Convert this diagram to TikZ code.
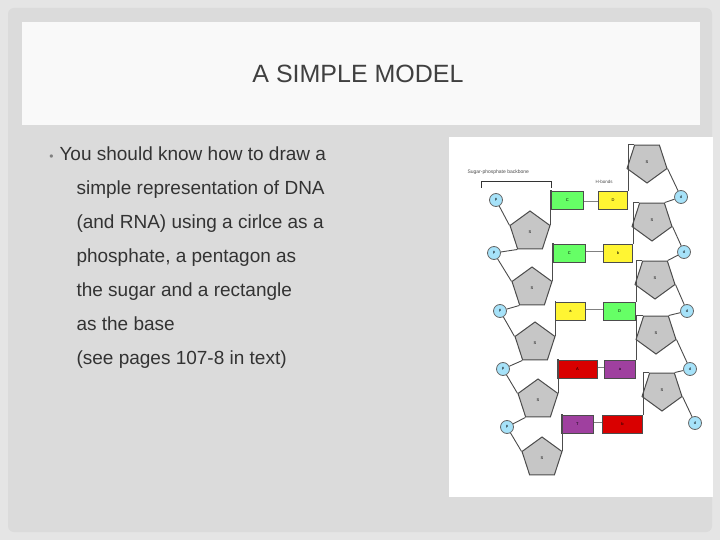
\documentclass[tikz,border=0pt]{standalone}
\usepackage{fontspec}
\setmainfont{Liberation Sans}
\usetikzlibrary{shapes.geometric}
\begin{document}
\begin{tikzpicture}[x=1pt,y=-1pt,
  sugar/.style={regular polygon,regular polygon sides=5,draw=black!70,fill=gray!45,line width=1pt,minimum size=42pt,inner sep=0pt,font=\fontsize{4}{4}\selectfont},
  rsugar/.style={sugar,shape border rotate=180},
  phos/.style={circle,draw=black!60,fill=cyan!35,line width=0.8pt,minimum size=13pt,inner sep=0pt,font=\fontsize{4}{4}\selectfont},
  base/.style={draw=black!70,line width=0.8pt,minimum height=18pt,minimum width=32pt,inner sep=0pt,font=\fontsize{4}{4}\selectfont},
  bb/.style={black!70,line width=0.9pt}]
\useasboundingbox (0,0) rectangle (720,540);
\fill[gray!20] (0,0) rectangle (720,540);
\fill[rounded corners=6pt,gray!28] (8,8) rectangle (712,532);
\fill[white!95!gray] (22,22) rectangle (700,125);
\node[font=\fontsize{25}{25}\selectfont,text=black!75] (title) at (358,74) {A SIMPLE MODEL};
\node[anchor=north west,align=left,font=\fontsize{19}{34}\selectfont,text=black!80] (body) at (56,143)
{\llap{\textcolor{gray}{\fontsize{12}{12}\selectfont\textbullet}\hspace{6pt}}You should know how to draw a\\
\hspace{17pt}simple representation of DNA\\
\hspace{17pt}(and RNA) using a cirlce as a\\
\hspace{17pt}phosphate, a pentagon as\\
\hspace{17pt}the sugar and a rectangle\\
\hspace{17pt}as the base\\
\hspace{17pt}(see pages 107-8 in text)};
\fill[white] (449,137) rectangle (713,497);
\node[anchor=west,font=\fontsize{5}{5}\selectfont,text=black!70] (lab1) at (464,172) {Sugar-phosphate backbone};
\draw[black!80,line width=0.8pt] (481,188) -- (481,181) -- (551,181) -- (551,188);
\node[font=\fontsize{4.5}{5}\selectfont,text=black!70] (lab2) at (604,182) {H-bonds};
\foreach \i/\px/\py/\sx/\sy in {1/496/200/530/232,2/494/253/532/288,3/500/311/535/343,4/503/369/538/400,5/507/427/542/458}{
  \node[phos] (lp\i) at (\px,\py) {p};
  \node[sugar] (ls\i) at (\sx,\sy) {S};
  \draw[bb] (lp\i) -- (ls\i.corner 2);
}
\foreach \i/\px/\py/\sx/\sy in {1/681/197/647/162,2/684/252/652/220,3/687/311/655/278,4/690/369/656/333,5/695/423/662/390}{
  \node[phos] (rp\i) at (\px,\py) {d};
  \node[rsugar] (rs\i) at (\sx,\sy) {S};
  \draw[bb] (rs\i.corner 2) -- (rp\i);
}
\foreach \a/\b in {1/2,2/3,3/4,4/5}{\draw[bb] (ls\a.corner 3) -- (lp\b);}
\foreach \a/\b in {1/2,2/3,3/4,4/5}{\draw[bb] (rp\a) -- (rs\b.corner 3);}
\node[base,fill=green!60,anchor=west] (b1l) at (551,200) {C};
\node[base,fill=yellow!80,anchor=east,minimum width=29pt] (b1r) at (628,200) {D};
\node[base,fill=green!60,anchor=west] (b2l) at (553,253) {C};
\node[base,fill=yellow!80,anchor=east,minimum width=29pt] (b2r) at (633,253) {b};
\node[base,fill=yellow!80,anchor=west,minimum width=30pt] (b3l) at (555,311) {a};
\node[base,fill=green!60,anchor=east] (b3r) at (636,311) {D};
\node[base,fill=red!85!black,minimum width=40pt,anchor=west] (b4l) at (557,369) {A};
\node[base,fill=violet!75,anchor=east,minimum width=31pt] (b4r) at (636,369) {a};
\node[base,fill=violet!75,anchor=west] (b5l) at (561,424) {T};
\node[base,fill=red!85!black,minimum width=40pt,anchor=east] (b5r) at (643,424) {b};
\foreach \n in {1,...,5}{
  \draw[black!50,double=white,double distance=3pt] (b\n l.east) -- (b\n r.west);
  \draw[bb] (ls\n.corner 5) -- (ls\n.corner 5 |- b\n l.north west) -- (b\n l.north west);
  \draw[bb] (b\n r.north east) -- (b\n r.north east |- rs\n.corner 4) -- (rs\n.corner 4);
}
\end{tikzpicture}
\end{document}
